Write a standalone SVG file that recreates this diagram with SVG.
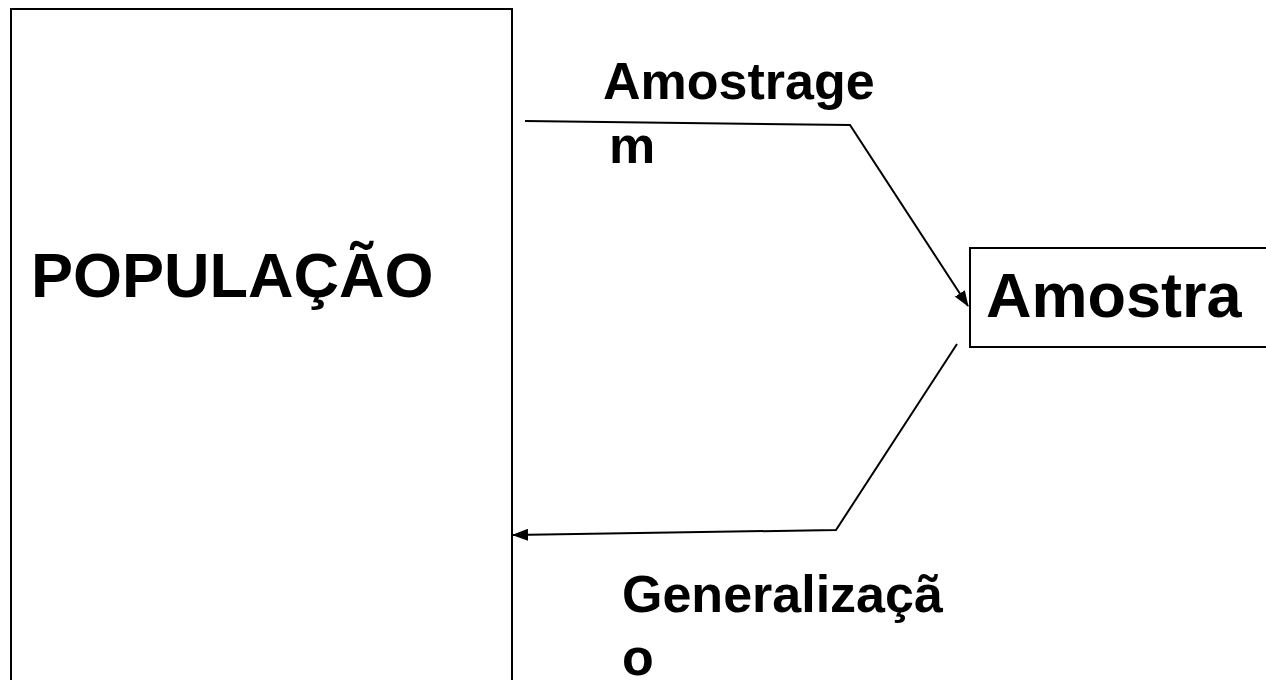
<svg xmlns="http://www.w3.org/2000/svg" width="1266" height="680" viewBox="0 0 1266 680">
  <style>
    .box { fill: #ffffff; stroke: #000000; stroke-width: 2; }
    .lbl { font-family: "Liberation Sans", Arial, sans-serif; font-weight: bold; fill: #000000; }
    .big { font-size: 63px; }
    .mid { font-size: 52px; }
    .edge { fill: none; stroke: #000000; stroke-width: 2; }
  </style>
  <defs>
    <marker id="arrow" viewBox="0 0 16 12" refX="15" refY="6" markerWidth="16" markerHeight="12" markerUnits="userSpaceOnUse" orient="auto">
      <path d="M0,0 L16,6 L0,12 Z" fill="#000000"/>
    </marker>
  </defs>
  <rect width="1266" height="680" fill="#ffffff"/>

  <g id="populacao">
    <rect class="box" x="11" y="9" width="501" height="700"/>
    <text class="lbl big" x="31" y="297">POPULAÇÃO</text>
  </g>

  <g id="amostra">
    <rect class="box" x="970" y="248" width="300" height="99"/>
    <text class="lbl big" x="986" y="317">Amostra</text>
  </g>

  <g id="connectors">
    <polyline class="edge" points="525,121 850,125 968,306" marker-end="url(#arrow)"/>
    <polyline class="edge" points="957,344 836,530 513,535" marker-end="url(#arrow)"/>
  </g>

  <g id="labels">
    <text class="lbl mid" x="603" y="99">Amostrage</text>
    <text class="lbl mid" x="609" y="163">m</text>
    <text class="lbl mid" x="622" y="612">Generalizaçã</text>
    <text class="lbl mid" x="622" y="675">o</text>
  </g>
</svg>
